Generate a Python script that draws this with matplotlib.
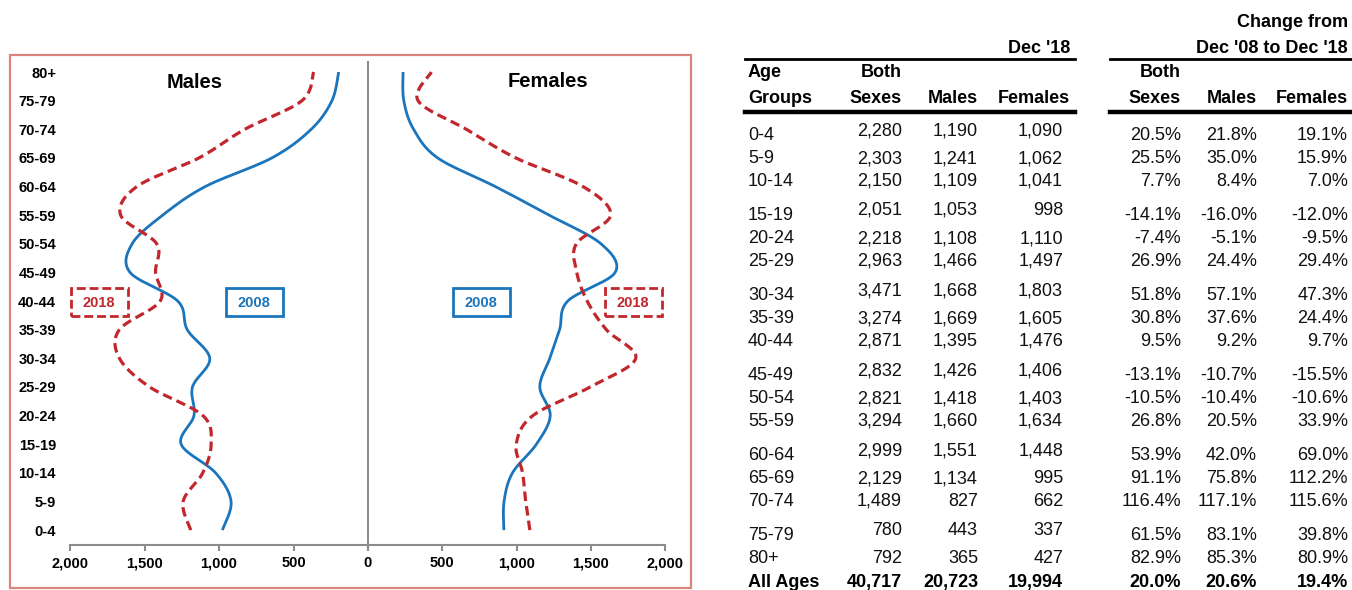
import numpy as np
import matplotlib
matplotlib.use("Agg")
import matplotlib.pyplot as plt
from matplotlib.patches import Rectangle
from matplotlib.lines import Line2D

plt.rcParams['font.family'] = ['Liberation Sans', 'DejaVu Sans']

# Datos
age_groups = ['0-4', '5-9', '10-14', '15-19', '20-24', '25-29', '30-34', '35-39', '40-44',
              '45-49', '50-54', '55-59', '60-64', '65-69', '70-74', '75-79', '80+']
both_18 = [2280, 2303, 2150, 2051, 2218, 2963, 3471, 3274, 2871,
           2832, 2821, 3294, 2999, 2129, 1489, 780, 792]
males_18 = [1190, 1241, 1109, 1053, 1108, 1466, 1668, 1669, 1395,
            1426, 1418, 1660, 1551, 1134, 827, 443, 365]
females_18 = [1090, 1062, 1041, 998, 1110, 1497, 1803, 1605, 1476,
              1406, 1403, 1634, 1448, 995, 662, 337, 427]
males_08 = [977, 919, 1023, 1254, 1168, 1178, 1062, 1213, 1277,
            1597, 1583, 1378, 1092, 645, 381, 242, 197]
females_08 = [915, 916, 973, 1134, 1227, 1157, 1224, 1290, 1345,
              1664, 1569, 1220, 857, 469, 307, 241, 236]
chg_both = [20.5, 25.5, 7.7, -14.1, -7.4, 26.9, 51.8, 30.8, 9.5,
            -13.1, -10.5, 26.8, 53.9, 91.1, 116.4, 61.5, 82.9]
chg_males = [21.8, 35.0, 8.4, -16.0, -5.1, 24.4, 57.1, 37.6, 9.2,
             -10.7, -10.4, 20.5, 42.0, 75.8, 117.1, 83.1, 85.3]
chg_females = [19.1, 15.9, 7.0, -12.0, -9.5, 29.4, 47.3, 24.4, 9.7,
               -15.5, -10.6, 33.9, 69.0, 112.2, 115.6, 39.8, 80.9]
total_18 = [40717, 20723, 19994]
total_chg = [20.0, 20.6, 19.4]

RED = '#c1272d'
BLUE = '#1b75bc'
GRAY = '#8c8c8c'
W, H = 1352, 590


def fx(x):
    return x / W


def fy(y):
    return 1 - y / H


def smooth(vals, n=24):
    # curva suavizada tipo Excel (Catmull-Rom / Bezier)
    pts = np.column_stack([np.asarray(vals, float), np.arange(len(vals), dtype=float)])
    out = []
    t = np.linspace(0, 1, n)[:, None]
    for i in range(len(pts) - 1):
        p0 = pts[max(i - 1, 0)]
        p1 = pts[i]
        p2 = pts[i + 1]
        p3 = pts[min(i + 2, len(pts) - 1)]
        c1 = p1 + (p2 - p0) / 6
        c2 = p2 - (p3 - p1) / 6
        seg = ((1 - t) ** 3) * p1 + 3 * ((1 - t) ** 2) * t * c1 + 3 * (1 - t) * t ** 2 * c2 + t ** 3 * p2
        out.append(seg if i == 0 else seg[1:])
    seg = np.vstack(out)
    return seg[:, 0], seg[:, 1]


fig = plt.figure(figsize=(W / 100, H / 100), dpi=100)

# Marco del grafico
fig.add_artist(Rectangle((fx(10), fy(588)), fx(681), (588 - 55) / H, transform=fig.transFigure,
                         fill=False, edgecolor='#d9847c', linewidth=1.6))

axL = fig.add_axes([fx(70), fy(545), fx(298), (545 - 62) / H])
axR = fig.add_axes([fx(368), fy(545), fx(297), (545 - 62) / H])

dash = (0, (3.0, 1.6))
for ax, v08, v18 in [(axL, males_08, males_18), (axR, females_08, females_18)]:
    x, y = smooth(v08)
    ax.plot(x, y, color=BLUE, lw=2.0, solid_capstyle='butt')
    x, y = smooth(v18)
    ax.plot(x, y, color=RED, lw=2.3, linestyle=dash)
    ax.set_ylim(-0.52, 16.35)
    ax.set_facecolor('none')
    for s in ['top', 'left', 'right']:
        ax.spines[s].set_visible(False)
    ax.spines['bottom'].set_color(GRAY)
    ax.spines['bottom'].set_linewidth(1.5)
    ax.tick_params(axis='x', direction='out', length=4, width=1.5, color=GRAY, pad=4)

axL.set_xlim(2000, 0)
axR.set_xlim(0, 2000)
ticks = [0, 500, 1000, 1500, 2000]
axL.set_xticks(ticks)
axL.set_xticklabels([f'{t:,}' for t in ticks], fontweight='bold', fontsize=10.5)
axR.set_xticks(ticks)
axR.set_xticklabels([''] + [f'{t:,}' for t in ticks[1:]], fontweight='bold', fontsize=10.5)

axL.spines['right'].set_visible(True)
axL.spines['right'].set_color(GRAY)
axL.spines['right'].set_linewidth(1.5)
axL.set_yticks(range(len(age_groups)))
axL.set_yticklabels(age_groups, fontweight='bold', fontsize=10.5)
axL.tick_params(axis='y', length=0, pad=10)
axR.set_yticks([])

fig.text(fx(195), fy(88), 'Males', ha='center', va='baseline', fontsize=14.5, fontweight='bold')
fig.text(fx(548), fy(87), 'Females', ha='center', va='baseline', fontsize=14.5, fontweight='bold')

# Etiquetas 2008 / 2018
for cx, txt, col, ls in [(99, '2018', RED, (0, (3.2, 1.4))), (254, '2008', BLUE, '-'),
                         (481, '2008', BLUE, '-'), (633, '2018', RED, (0, (3.2, 1.4)))]:
    fig.add_artist(Rectangle((fx(cx - 28), fy(316)), fx(57), 28 / H, transform=fig.transFigure,
                             fill=True, facecolor='white', edgecolor=col, linewidth=2.0,
                             linestyle=ls))
    fig.text(fx(cx), fy(307), txt, ha='center', va='baseline', color=col,
             fontsize=10.5, fontweight='bold')

# Tabla
FS = 13
TXT = '#111111'
fig.text(fx(1070), fy(53), "Dec '18", ha='right', va='baseline', fontsize=FS, fontweight='bold')
fig.text(fx(1348), fy(27), 'Change from', ha='right', va='baseline', fontsize=FS, fontweight='bold')
fig.text(fx(1348), fy(53), "Dec '08 to Dec '18", ha='right', va='baseline', fontsize=FS,
         fontweight='bold')
for x0, x1 in [(745, 1075), (1110, 1352)]:
    fig.add_artist(Line2D([fx(x0), fx(x1)], [fy(58.5), fy(58.5)], transform=fig.transFigure,
                          color='black', lw=2.0))
    fig.add_artist(Line2D([fx(x0), fx(x1)], [fy(112.5), fy(112.5)], transform=fig.transFigure,
                          color='black', lw=3.2))

fig.text(fx(748), fy(77), 'Age', ha='left', va='baseline', fontsize=FS, fontweight='bold')
fig.text(fx(748), fy(103), 'Groups', ha='left', va='baseline', fontsize=FS, fontweight='bold')
for xr, l1, l2 in [(902, 'Both', 'Sexes'), (978, '', 'Males'), (1070, '', 'Females'),
                   (1181, 'Both', 'Sexes'), (1257, '', 'Males'), (1348, '', 'Females')]:
    if l1:
        fig.text(fx(xr), fy(77), l1, ha='right', va='baseline', fontsize=FS, fontweight='bold')
    fig.text(fx(xr), fy(103), l2, ha='right', va='baseline', fontsize=FS, fontweight='bold')

num_cols = [902, 978, 1063]
pct_cols = [1181, 1257, 1348]
for i, ag in enumerate(age_groups):
    g, r = divmod(i, 3)
    base = 140 + 80 * g + 23 * r
    nbase = base - 5 if r == 0 else base
    fig.text(fx(748), fy(base), ag, ha='left', va='baseline', fontsize=FS, color=TXT)
    for xr, v in zip(num_cols, [both_18[i], males_18[i], females_18[i]]):
        fig.text(fx(xr), fy(nbase), f'{v:,}', ha='right', va='baseline', fontsize=FS, color=TXT)
    for xr, v in zip(pct_cols, [chg_both[i], chg_males[i], chg_females[i]]):
        fig.text(fx(xr), fy(base), f'{v:.1f}%', ha='right', va='baseline', fontsize=FS, color=TXT)

base = 587
fig.text(fx(748), fy(base), 'All Ages', ha='left', va='baseline', fontsize=FS, fontweight='bold')
for xr, v in zip(num_cols, total_18):
    fig.text(fx(xr), fy(base), f'{v:,}', ha='right', va='baseline', fontsize=FS, fontweight='bold')
for xr, v in zip(pct_cols, total_chg):
    fig.text(fx(xr), fy(base), f'{v:.1f}%', ha='right', va='baseline', fontsize=FS, fontweight='bold')

fig.savefig('out.png', dpi=100)
